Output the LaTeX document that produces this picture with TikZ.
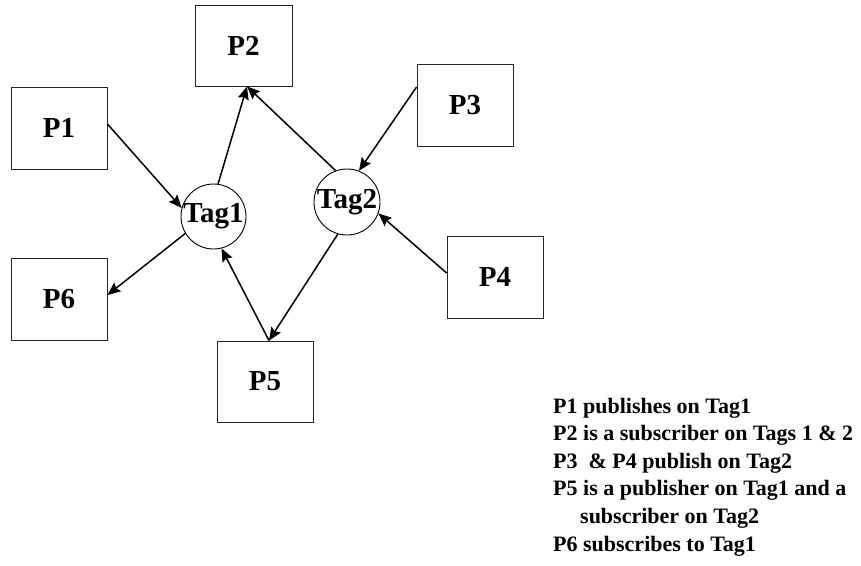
\documentclass[tikz,border=0pt]{standalone}
\usepackage{fontspec}
\setmainfont{Liberation Serif}
\usetikzlibrary{arrows.meta}
\begin{document}
\begin{tikzpicture}[x=1pt,y=-1pt,
  pbox/.style={draw=black!85,line width=0.9pt,minimum width=96pt,minimum height=82pt,inner sep=0pt,
     font=\fontsize{29}{34}\selectfont\bfseries},
  tagc/.style={draw,circle,line width=0.9pt,minimum size=65pt,inner sep=0pt},
  tagt/.style={font=\fontsize{29}{34}\selectfont\bfseries,inner sep=0pt},
  conn/.style={line width=1.5pt,-{Stealth[length=13pt,width=11pt,inset=2pt]}},
  note/.style={anchor=base west,inner sep=0pt,font=\fontsize{22}{27}\selectfont\bfseries}]
\useasboundingbox (0,0) rectangle (861,565);
\node[pbox] (p1) at (59,128) {P1};
\node[pbox,minimum width=97pt,minimum height=81pt] (p2) at (243.5,45.5) {P2};
\node[pbox] (p3) at (465,105) {P3};
\node[pbox] (p4) at (495,277) {P4};
\node[pbox,minimum height=81pt] (p5) at (265,381.5) {P5};
\node[pbox] (p6) at (59,299) {P6};
\node[tagc] (tag1) at (213.5,216.5) {};
\node[tagt] (tag1t) at (tag1) {Tag1};
\node[tagc,minimum size=66pt] (tag2) at (347,202) {};
\node[tagt] (tag2t) at (tag2) {Tag2};
\coordinate (p2in) at ([xshift=3.5pt]p2.south);
\coordinate (p5in) at ([xshift=4pt]p5.north);
\draw[conn] ([yshift=4pt]p1.east) -- (tag1.165);
\draw[conn] (tag1.82) -- (p2in);
\draw[conn] (tag2.110) -- (p2in);
\draw[conn] ([yshift=18pt]p3.west) -- (tag2.69);
\draw[conn] ([yshift=4pt]p4.west) -- (tag2.-20);
\draw[conn] (tag2.-106) -- (p5in);
\draw[conn] (p5in) -- (tag1.-76);
\draw[conn] (tag1.211) -- ([yshift=4pt]p6.east);
\node[note] (t1) at (553,413) {P1 publishes on Tag1};
\node[note] (t2) at (553,440.6) {P2 is a subscriber on Tags 1 \& 2};
\node[note] (t3) at (553,468.2) {P3 \ \& P4 publish on Tag2};
\node[note] (t4) at (553,495.8) {P5 is a publisher on Tag1 and a};
\node[note] (t5) at (580,523.4) {subscriber on Tag2};
\node[note] (t6) at (553,551) {P6 subscribes to Tag1};
\end{tikzpicture}
\end{document}
